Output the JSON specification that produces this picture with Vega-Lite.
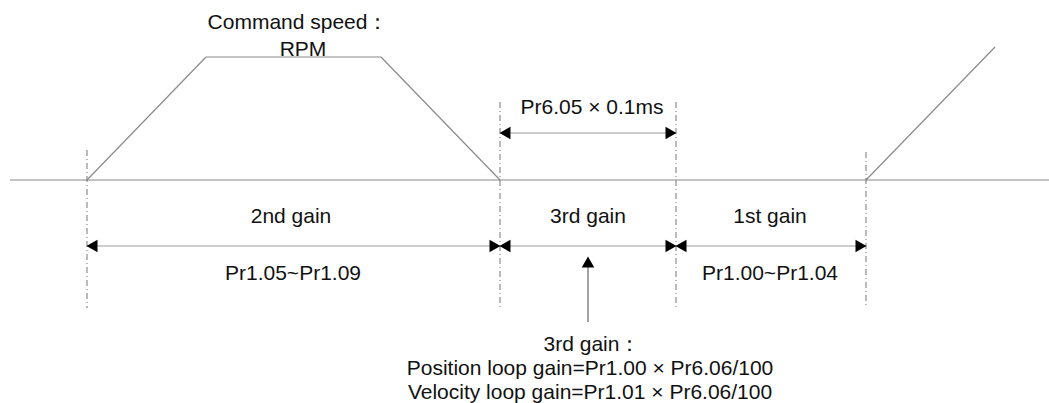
{
  "$schema": "https://vega.github.io/schema/vega-lite/v6.json",
  "width": 1049,
  "height": 403,
  "padding": 0,
  "autosize": {"type": "none"},
  "background": "white",
  "config": {"view": {"stroke": null}, "font": "Liberation Sans"},
  "datasets": {
    "segs": [
      {"kind": "solid", "xa": 10, "ya": 180, "xb": 1049, "yb": 180},
      {"kind": "solid", "xa": 87, "ya": 180, "xb": 206, "yb": 57},
      {"kind": "solid", "xa": 206, "ya": 57, "xb": 381, "yb": 57},
      {"kind": "solid", "xa": 381, "ya": 57, "xb": 500, "yb": 180},
      {"kind": "solid", "xa": 866, "ya": 180, "xb": 995, "yb": 47},
      {"kind": "dash", "xa": 87, "ya": 150, "xb": 87, "yb": 308},
      {"kind": "dash", "xa": 500, "ya": 102, "xb": 500, "yb": 308},
      {"kind": "dash", "xa": 676, "ya": 102, "xb": 676, "yb": 308},
      {"kind": "dash", "xa": 866, "ya": 152, "xb": 866, "yb": 308},
      {"kind": "dim", "xa": 500, "ya": 133, "xb": 676, "yb": 133},
      {"kind": "dim", "xa": 87, "ya": 246, "xb": 500, "yb": 246},
      {"kind": "dim", "xa": 500, "ya": 246, "xb": 676, "yb": 246},
      {"kind": "dim", "xa": 676, "ya": 246, "xb": 866, "yb": 246},
      {"kind": "pointer", "xa": 588, "ya": 266, "xb": 588, "yb": 322}
    ],
    "heads": [
      {"dir": "left", "x": 500, "y": 133},
      {"dir": "right", "x": 676, "y": 133},
      {"dir": "left", "x": 87, "y": 246},
      {"dir": "right", "x": 500, "y": 246},
      {"dir": "left", "x": 500, "y": 246},
      {"dir": "right", "x": 676, "y": 246},
      {"dir": "left", "x": 676, "y": 246},
      {"dir": "right", "x": 866, "y": 246},
      {"dir": "up", "x": 588, "y": 257}
    ],
    "texts": [
      {"x": 298, "y": 29, "label": "Command speed："},
      {"x": 303, "y": 56, "label": "RPM"},
      {"x": 592, "y": 114, "label": "Pr6.05 × 0.1ms"},
      {"x": 291, "y": 223, "label": "2nd gain"},
      {"x": 588, "y": 223, "label": "3rd gain"},
      {"x": 770, "y": 223, "label": "1st gain"},
      {"x": 293, "y": 280, "label": "Pr1.05~Pr1.09"},
      {"x": 770, "y": 280, "label": "Pr1.00~Pr1.04"},
      {"x": 592, "y": 351, "label": "3rd gain："},
      {"x": 590, "y": 375, "label": "Position loop gain=Pr1.00 × Pr6.06/100"},
      {"x": 590, "y": 399, "label": "Velocity loop gain=Pr1.01 × Pr6.06/100"}
    ]
  },
  "layer": [
    {
      "data": {"name": "segs"},
      "transform": [{"filter": "datum.kind === 'solid'"}],
      "mark": {"type": "rule", "color": "#8a8a8a", "strokeWidth": 1.2},
      "encoding": {
        "x": {"field": "xa", "type": "quantitative", "scale": {"domain": [0, 1049], "nice": false, "zero": false}, "axis": null},
        "y": {"field": "ya", "type": "quantitative", "scale": {"domain": [0, 403], "nice": false, "zero": false, "reverse": true}, "axis": null},
        "x2": {"field": "xb"},
        "y2": {"field": "yb"}
      }
    },
    {
      "data": {"name": "segs"},
      "transform": [{"filter": "datum.kind === 'dash'"}],
      "mark": {"type": "rule", "color": "#777777", "strokeWidth": 1, "strokeDash": [6, 3, 1, 3]},
      "encoding": {
        "x": {"field": "xa", "type": "quantitative"},
        "y": {"field": "ya", "type": "quantitative"},
        "x2": {"field": "xb"},
        "y2": {"field": "yb"}
      }
    },
    {
      "data": {"name": "segs"},
      "transform": [{"filter": "datum.kind === 'dim'"}],
      "mark": {"type": "rule", "color": "#9a9a9a", "strokeWidth": 1.2},
      "encoding": {
        "x": {"field": "xa", "type": "quantitative"},
        "y": {"field": "ya", "type": "quantitative"},
        "x2": {"field": "xb"},
        "y2": {"field": "yb"}
      }
    },
    {
      "data": {"name": "segs"},
      "transform": [{"filter": "datum.kind === 'pointer'"}],
      "mark": {"type": "rule", "color": "#444444", "strokeWidth": 1},
      "encoding": {
        "x": {"field": "xa", "type": "quantitative"},
        "y": {"field": "ya", "type": "quantitative"},
        "x2": {"field": "xb"},
        "y2": {"field": "yb"}
      }
    },
    {
      "data": {"name": "heads"},
      "transform": [{"filter": "datum.dir === 'left'"}],
      "mark": {"type": "point", "shape": "triangle-left", "filled": true, "color": "black", "opacity": 1, "size": 160, "xOffset": 5},
      "encoding": {
        "x": {"field": "x", "type": "quantitative"},
        "y": {"field": "y", "type": "quantitative"}
      }
    },
    {
      "data": {"name": "heads"},
      "transform": [{"filter": "datum.dir === 'right'"}],
      "mark": {"type": "point", "shape": "triangle-right", "filled": true, "color": "black", "opacity": 1, "size": 160, "xOffset": -5},
      "encoding": {
        "x": {"field": "x", "type": "quantitative"},
        "y": {"field": "y", "type": "quantitative"}
      }
    },
    {
      "data": {"name": "heads"},
      "transform": [{"filter": "datum.dir === 'up'"}],
      "mark": {"type": "point", "shape": "triangle-up", "filled": true, "color": "black", "opacity": 1, "size": 160, "yOffset": 5},
      "encoding": {
        "x": {"field": "x", "type": "quantitative"},
        "y": {"field": "y", "type": "quantitative"}
      }
    },
    {
      "data": {"name": "texts"},
      "mark": {"type": "text", "font": "Liberation Sans", "fontSize": 21, "color": "#111111", "align": "center", "baseline": "alphabetic"},
      "encoding": {
        "x": {"field": "x", "type": "quantitative"},
        "y": {"field": "y", "type": "quantitative"},
        "text": {"field": "label"}
      }
    }
  ]
}
